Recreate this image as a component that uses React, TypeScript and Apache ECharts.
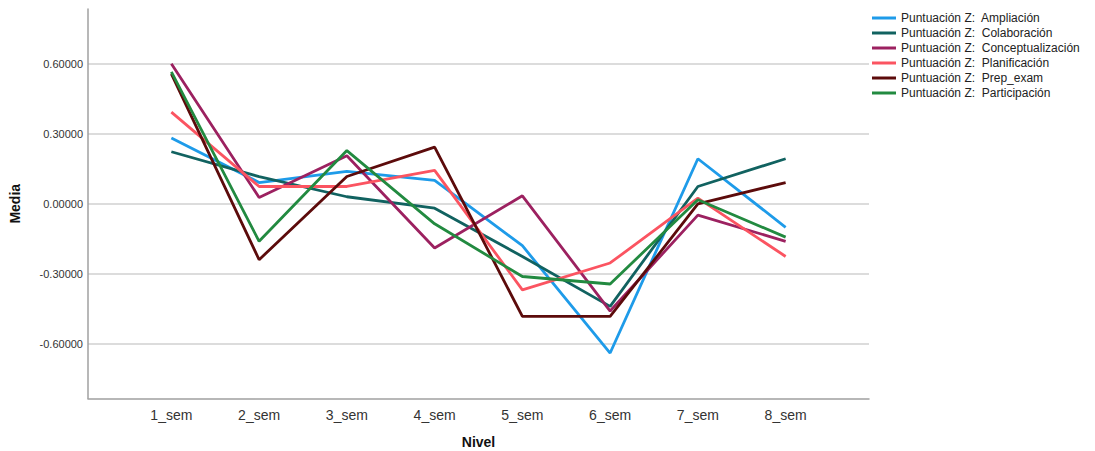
import React, { useEffect, useRef } from "react";
import * as echarts from "echarts";

const CATEGORIES = ["1_sem", "2_sem", "3_sem", "4_sem", "5_sem", "6_sem", "7_sem", "8_sem"];
const SERIES_NAMES = [
  "Puntuación Z:  Ampliación",
  "Puntuación Z:  Colaboración",
  "Puntuación Z:  Conceptualización",
  "Puntuación Z:  Planificación",
  "Puntuación Z:  Prep_exam",
  "Puntuación Z:  Participación",
];
const AMPLIACION = [0.282, 0.091, 0.139, 0.1, -0.18, -0.64, 0.193, -0.101];
const COLABORACION = [0.223, 0.116, 0.03, -0.019, -0.226, -0.44, 0.074, 0.193];
const CONCEPTUALIZACION = [0.6, 0.027, 0.206, -0.19, 0.034, -0.46, -0.049, -0.161];
const PLANIFICACION = [0.393, 0.074, 0.074, 0.143, -0.369, -0.254, 0.024, -0.226];
const PREP_EXAM = [0.557, -0.24, 0.117, 0.243, -0.483, -0.483, -0.001, 0.091];
const PARTICIPACION = [0.565, -0.161, 0.228, -0.086, -0.312, -0.344, 0.017, -0.143];

const COLORS = ["#1e9be9", "#116260", "#9c2160", "#fb5461", "#5c0b0b", "#228a40"];
const FONT = "'Liberation Sans', Arial, sans-serif";

export default function App() {
  const ref = useRef<HTMLDivElement>(null);
  useEffect(() => {
    if (!ref.current) return;
    const chart = echarts.init(ref.current, null, { renderer: "svg" });
    const all = [AMPLIACION, COLABORACION, CONCEPTUALIZACION, PLANIFICACION, PREP_EXAM, PARTICIPACION];
    chart.setOption({
      animation: false,
      backgroundColor: "#ffffff",
      textStyle: { fontFamily: FONT },
      legend: {
        orient: "vertical",
        left: 867,
        top: 6,
        itemWidth: 24,
        itemHeight: 3,
        itemGap: 1,
        icon: "rect",
        textStyle: { fontSize: 12, color: "#222", fontFamily: FONT, lineHeight: 14 },
        data: SERIES_NAMES,
      },
      grid: { left: 88, top: 9, right: 226, bottom: 52.5, containLabel: false, outerBoundsMode: "none" },
      xAxis: {
        type: "value",
        min: 0.05,
        max: 8.95,
        minInterval: 1,
        maxInterval: 1,
        name: "Nivel",
        nameLocation: "middle",
        nameGap: 36,
        nameTextStyle: { fontSize: 14, fontWeight: "bold", color: "#111", fontFamily: FONT },
        axisLine: { show: true, onZero: false, lineStyle: { color: "#a0a0a0", width: 1.5 } },
        axisTick: { show: false },
        splitLine: { show: false },
        axisLabel: {
          fontSize: 14,
          color: "#333",
          margin: 9,
          showMinLabel: false,
          showMaxLabel: false,
          formatter: (v: number) => {
            const r = Math.round(v);
            return Math.abs(v - r) < 1e-6 && r >= 1 && r <= CATEGORIES.length ? CATEGORIES[r - 1] : "";
          },
        },
      },
      yAxis: {
        type: "value",
        min: -0.835,
        max: 0.835,
        minInterval: 0.3,
        maxInterval: 0.3,
        name: "Media",
        nameLocation: "middle",
        nameGap: 66,
        nameTextStyle: { fontSize: 14, fontWeight: "bold", color: "#111", fontFamily: FONT },
        axisLine: { show: true, onZero: false, lineStyle: { color: "#a0a0a0", width: 1.5 } },
        axisTick: { show: false },
        splitLine: { show: true, showMinLine: false, showMaxLine: false, lineStyle: { color: "#d0d0d0", width: 1.5 } },
        axisLabel: {
          fontSize: 11,
          color: "#333",
          margin: 5,
          showMinLabel: false,
          showMaxLabel: false,
          formatter: (v: number) => (Math.abs(v) > 0.8 ? "" : v.toFixed(5)),
        },
      },
      series: SERIES_NAMES.map((name, i) => ({
        name,
        type: "line",
        data: all[i].map((v, j) => [j + 1, v]),
        showSymbol: false,
        symbol: "none",
        lineStyle: { width: 2.8, color: COLORS[i] },
        itemStyle: { color: COLORS[i] },
      })),
    });
    return () => chart.dispose();
  }, []);
  return <div ref={ref} style={{ position: "fixed", left: 0, top: 0, width: 1095, height: 451 }} />;
}
